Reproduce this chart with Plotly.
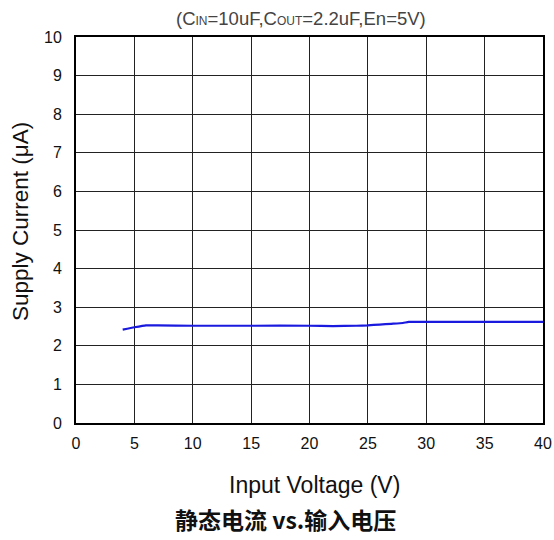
import plotly.graph_objects as go

# Quiescent supply current vs. input voltage
vin = [4.0, 5.0, 6.0, 7.0, 10.0, 15.0, 20.0, 22.0, 24.0, 25.0, 26.0, 27.0, 28.0, 28.5, 30.0, 35.0, 40.0]
iq = [2.42, 2.48, 2.53, 2.53, 2.52, 2.52, 2.52, 2.51, 2.52, 2.53, 2.55, 2.57, 2.59, 2.62, 2.62, 2.62, 2.62]

x_ticks = [0, 5, 10, 15, 20, 25, 30, 35, 40]
y_ticks = [0, 1, 2, 3, 4, 5, 6, 7, 8, 9, 10]

W, H = 554, 540
ML, MR, MT, MB = 76, 11, 37, 117
PW, PH = W - ML - MR, H - MT - MB

fig = go.Figure()
fig.add_trace(go.Scatter(
    x=vin, y=iq, mode="lines",
    line=dict(color="#1a1adf", width=2.2, shape="spline", smoothing=0.4),
    showlegend=False,
))

axis_common = dict(
    showgrid=True, gridcolor="#222222", gridwidth=1,
    showline=True, linecolor="#000000", linewidth=2, mirror=True,
    ticks="", zeroline=False, automargin=False,
    tickfont=dict(family="Liberation Sans, Arial", size=16, color="#111111"),
)

fig.update_xaxes(range=[0, 40], tickvals=x_ticks, ticklabelstandoff=5, **axis_common)
fig.update_yaxes(range=[0, 10], tickvals=y_ticks, ticklabelstandoff=9, **axis_common)

font_main = "Liberation Sans, Arial"

# axis titles, placed in pixel offsets from the plot area
fig.add_annotation(
    text="Input Voltage (V)", xref="paper", yref="paper",
    x=(314 - ML) / PW, y=0, yshift=-(485 - (MT + PH)),
    xanchor="center", yanchor="middle", showarrow=False,
    font=dict(family=font_main, size=23, color="#111111"),
)
fig.add_annotation(
    text="Supply Current (μA)", xref="paper", yref="paper", textangle=-90,
    x=0, xshift=-(ML - 21), y=1 - (222 - MT) / PH,
    xanchor="center", yanchor="middle", showarrow=False,
    font=dict(family=font_main, size=22.5, color="#111111"),
)

fig.add_annotation(
    text="(C<span style='font-size:12px'>IN</span>=10uF,C<span style='font-size:12px'>OUT</span>=2.2uF,En=5V)",
    xref="paper", yref="paper", x=(301 - ML) / PW, y=1.0, yshift=MT - 18,
    xanchor="center", yanchor="middle", showarrow=False,
    font=dict(family=font_main, size=18.5, color="#444444"),
)
fig.add_annotation(
    text="<b>静态电流 vs.输入电压</b>",
    xref="paper", yref="paper", x=(285 - ML) / PW, y=0, yshift=-(519 - (MT + PH)),
    xanchor="center", yanchor="middle", showarrow=False,
    font=dict(family="Noto Sans CJK SC", size=23, color="#111111"),
)

fig.update_layout(
    width=W, height=H,
    margin=dict(l=ML, r=MR, t=MT, b=MB),
    paper_bgcolor="white", plot_bgcolor="white",
)

fig.write_html("out.html")
